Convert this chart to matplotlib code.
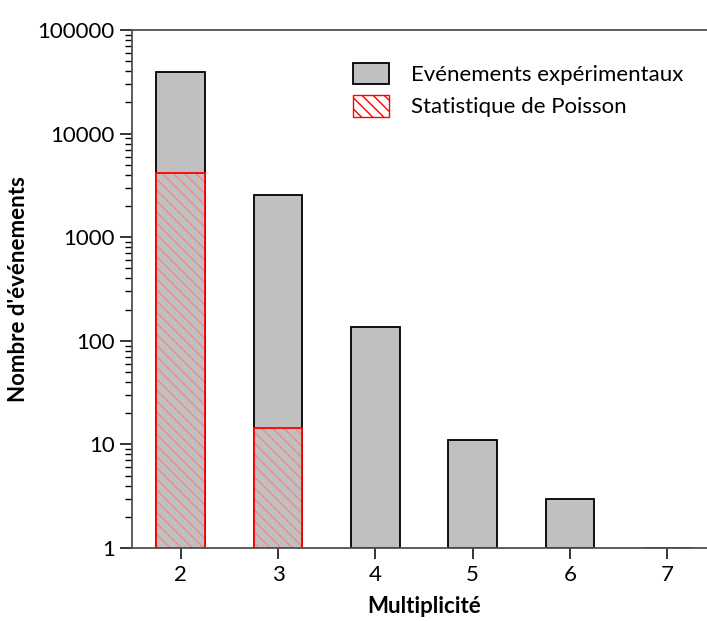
import numpy as np
import matplotlib.pyplot as plt
from matplotlib.patches import Patch
from matplotlib.ticker import LogLocator, NullFormatter, FixedFormatter

plt.rcParams['font.family'] = ['Lato', 'DejaVu Sans']

# Nombre d'événements par multiplicité
multiplicite = [2, 3, 4, 5, 6, 7]
experimentaux = [39000, 2550, 135, 11, 3, 1]
poisson_mult = [2, 3]
poisson = [4150, 14.5]

gris = '#c0c0c0'
rouge = '#ff0000'
rouge_clair = '#f08a8a'
axe = '#505050'

fig = plt.figure(figsize=(7.07, 6.21), dpi=100)
ax = fig.add_axes([0.1867, 0.1176, 0.826, 0.834])

exp = np.array(experimentaux, dtype=float)
ax.bar(multiplicite, exp - 1, bottom=1, width=0.5, color=gris,
       edgecolor='black', linewidth=1.3, zorder=2)

poi = np.array(poisson, dtype=float)
# hachures rouges claires puis contour rouge
ax.bar(poisson_mult, poi - 1, bottom=1, width=0.5, color=gris,
       edgecolor=rouge_clair, linewidth=0, hatch='\\\\\\', zorder=3)
ax.bar(poisson_mult, poi - 1, bottom=1, width=0.5, fill=False,
       edgecolor=rouge, linewidth=1.3, zorder=4)

ax.set_yscale('log')
ax.set_ylim(1, 100000)
ax.set_xlim(1.5, 7.5)
ax.set_xticks(multiplicite)
ax.set_xticklabels([str(m) for m in multiplicite])

majeurs = [1, 10, 100, 1000, 10000, 100000]
ax.set_yticks(majeurs)
ax.yaxis.set_major_formatter(FixedFormatter([str(v) for v in majeurs]))
ax.yaxis.set_minor_locator(LogLocator(base=10, subs=np.arange(2, 10), numticks=10))
ax.yaxis.set_minor_formatter(NullFormatter())

for cote in ['left', 'bottom', 'top']:
    ax.spines[cote].set_color(axe)
    ax.spines[cote].set_linewidth(1.3)
ax.spines['right'].set_visible(False)

ax.tick_params(axis='y', which='major', direction='out', length=8.5, width=1.1,
               color='black', labelsize=16, pad=4)
ax.tick_params(axis='y', which='minor', direction='out', length=5, width=1.0,
               color='black')
ax.tick_params(axis='x', which='major', direction='out', length=8, width=1.1,
               color='black', labelsize=16, pad=4)
ax.tick_params(axis='x', which='minor', bottom=False)

ax.set_xlabel('Multiplicité', fontsize=16, fontweight='bold', labelpad=8)
ax.set_ylabel("Nombre d'événements", fontsize=16, fontweight='bold', labelpad=6)

plt.rcParams['hatch.color'] = rouge_clair
poignees = [
    Patch(facecolor=gris, edgecolor='black', linewidth=1.3),
    Patch(facecolor='white', edgecolor=rouge, linewidth=1.0, hatch='\\\\\\'),
]
leg = ax.legend(poignees, ['Evénements expérimentaux', 'Statistique de Poisson'],
                loc='upper left', bbox_to_anchor=(0.345, 0.975), frameon=False,
                fontsize=16, handlelength=1.6, handleheight=1.1,
                handletextpad=1.0, labelspacing=0.45)

fig.savefig('out.png', dpi=100)
